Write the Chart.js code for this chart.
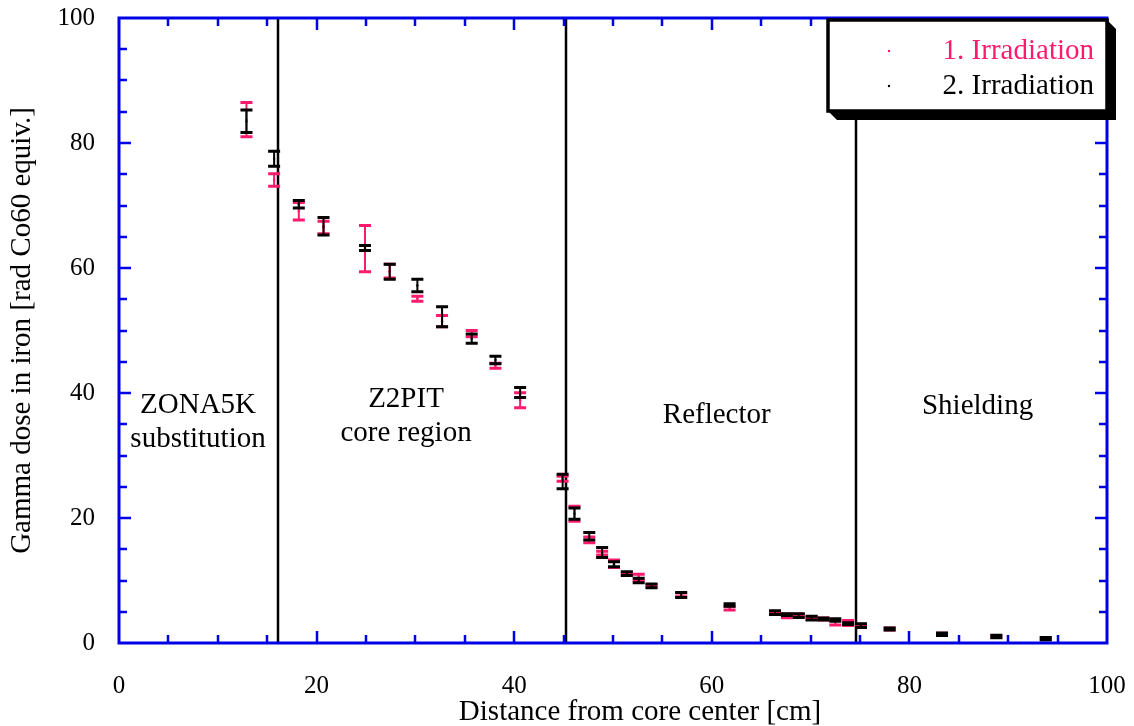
<!DOCTYPE html>
<html>
<head>
<meta charset="utf-8">
<script src="https://cdn.jsdelivr.net/npm/chart.js@4.4.1/dist/chart.umd.min.js"></script>
<style>
    body { margin: 0; background: #fff; }
    #kutu { width: 1134px; height: 726px; }
</style>
</head>
<body>
<div id="kutu"><canvas id="myChart"></canvas></div>
<script>
// Ölçüm noktaları (çekirdek merkezinden uzaklık, cm)
const mesafe = [12.9, 15.7, 18.2, 20.7, 24.9, 27.4, 30.2, 32.7, 35.7, 38.1, 40.6,
    44.9, 46.1, 47.6, 48.9, 50.1, 51.4, 52.6, 53.9, 56.9, 61.8,
    66.4, 67.6, 68.8, 70.1, 71.3, 72.5, 73.8, 75.1, 78.0, 83.3, 88.8, 93.8];

// 1. ışınlama: doz ve hata
const doz1 = [83.75, 74.1, 69.1, 66.5, 63.1, 59.5, 55.1, 51.5, 49.5, 44.35, 38.85,
    26.3, 20.7, 16.5, 14.4, 12.7, 11.1, 10.5, 9.15, 7.7, 5.6,
    4.85, 4.35, 4.4, 4.0, 3.85, 3.3, 3.2, 2.8, 2.25, 1.4, 1.05, 0.7];
const hata1 = [2.75, 1.0, 1.4, 1.0, 3.7, 1.1, 0.4, 0.9, 0.5, 0.4, 1.2,
    0.4, 1.2, 0.45, 0.3, 0.6, 0.2, 0.5, 0.2, 0.3, 0.3,
    0.2, 0.3, 0.2, 0.2, 0.15, 0.4, 0.4, 0.2, 0.15, 0.15, 0.15, 0.15];

// 2. ışınlama: doz ve hata
const doz2 = [83.5, 77.5, 70.2, 66.7, 63.2, 59.4, 57.2, 52.2, 48.7, 45.3, 40.1,
    25.85, 20.7, 17.1, 14.5, 12.6, 11.1, 10.0, 9.15, 7.7, 6.1,
    4.85, 4.55, 4.4, 4.0, 3.85, 3.7, 3.1, 2.8, 2.25, 1.4, 1.05, 0.7];
const hata2 = [1.8, 1.2, 0.6, 1.4, 0.4, 1.2, 1.0, 1.6, 0.75, 0.6, 0.8,
    1.15, 0.9, 0.6, 0.8, 0.4, 0.3, 0.35, 0.3, 0.4, 0.2,
    0.3, 0.15, 0.3, 0.3, 0.15, 0.2, 0.15, 0.3, 0.15, 0.2, 0.2, 0.2];

// Bölge sınırları ve adları
const sinirlar = [16.1, 45.2, 74.6];
const bolgeler = [['ZONA5K', 'substitution'], ['Z2PIT', 'core region'], ['Reflector'], ['Shielding']];

const etiketler = ['1. Irradiation', '2. Irradiation'];
const eksenTikleri = [0, 20, 40, 60, 80, 100];
const xBasligi = 'Distance from core center [cm]';

const PEMBE = '#ff1a6e';
const MAVI = '#0000e6';
const YAZI = '"Liberation Serif", "Times New Roman", serif';

function noktalar(y, e) {
    return mesafe.map(function (x, i) {
        return { x: x, y: y[i], yMin: y[i] - e[i], yMax: y[i] + e[i] };
    });
}

// Bölge yazılarının yeri (veri biriminde: x merkez, ilk satırın taban çizgisi)
const bolgeKonum = [[8.0, 36.8], [29.05, 37.8], [60.5, 35.2], [86.9, 36.6]];

const cizim = {
    id: 'cizim',
    beforeDatasetsDraw: function (chart) {
        const ctx = chart.ctx;
        const xs = chart.scales.x, ys = chart.scales.y;
        ctx.save();
        // dikey bölge çizgileri
        ctx.strokeStyle = '#000';
        ctx.lineWidth = 2.5;
        sinirlar.forEach(function (v) {
            const px = Math.round(xs.getPixelForValue(v));
            ctx.beginPath();
            ctx.moveTo(px, ys.getPixelForValue(0));
            ctx.lineTo(px, ys.getPixelForValue(100));
            ctx.stroke();
        });
        // bölge adları
        ctx.fillStyle = '#000';
        ctx.font = '29px ' + YAZI;
        ctx.textAlign = 'center';
        ctx.textBaseline = 'alphabetic';
        bolgeler.forEach(function (satirlar, i) {
            const px = xs.getPixelForValue(bolgeKonum[i][0]);
            const py = ys.getPixelForValue(bolgeKonum[i][1]);
            satirlar.forEach(function (s, j) {
                ctx.fillText(s, px, py + j * 34);
            });
        });
        ctx.restore();
    },
    afterDatasetsDraw: function (chart) {
        const ctx = chart.ctx;
        const xs = chart.scales.x, ys = chart.scales.y;
        const a = chart.chartArea;
        ctx.save();
        // hata çubukları
        chart.data.datasets.forEach(function (ds) {
            ctx.strokeStyle = ds.borderColor;
            ds.data.forEach(function (p) {
                const px = xs.getPixelForValue(p.x);
                const ust = ys.getPixelForValue(p.yMax);
                const alt = ys.getPixelForValue(p.yMin);
                ctx.lineWidth = 2;
                ctx.beginPath();
                ctx.moveTo(px, ust);
                ctx.lineTo(px, alt);
                ctx.stroke();
                ctx.lineWidth = 3;
                ctx.beginPath();
                ctx.moveTo(px - 6, ust);
                ctx.lineTo(px + 6, ust);
                ctx.moveTo(px - 6, alt);
                ctx.lineTo(px + 6, alt);
                ctx.stroke();
            });
        });

        // mavi çerçeve ve içe dönük tikler
        ctx.strokeStyle = MAVI;
        ctx.lineWidth = 3;
        ctx.strokeRect(a.left, a.top, a.right - a.left, a.bottom - a.top);
        ctx.lineWidth = 2.5;
        ctx.beginPath();
        for (let v = 5; v < 100; v += 5) {
            const boy = v % 20 === 0 ? 12 : 8;
            const px = Math.round(xs.getPixelForValue(v));
            ctx.moveTo(px, a.bottom);
            ctx.lineTo(px, a.bottom - boy);
            ctx.moveTo(px, a.top);
            ctx.lineTo(px, a.top + boy);
            const py = Math.round(ys.getPixelForValue(v));
            ctx.moveTo(a.left, py);
            ctx.lineTo(a.left + boy, py);
            ctx.moveTo(a.right, py);
            ctx.lineTo(a.right - boy, py);
        }
        ctx.stroke();
        ctx.restore();
    },
    afterDraw: function (chart) {
        const ctx = chart.ctx;
        const a = chart.chartArea;
        ctx.save();

        // x ekseni başlığı (biraz sağa kaymış)
        ctx.fillStyle = '#000';
        ctx.font = '29px ' + YAZI;
        ctx.textAlign = 'center';
        ctx.textBaseline = 'alphabetic';
        ctx.fillText(xBasligi, (a.left + a.right) / 2 + 27, chart.height - 6);

        // gölgeli lejant kutusu
        const R = a.right, T = a.top + 2, L = R - 279, B = T + 91, d = 9;
        ctx.fillStyle = '#000';
        ctx.beginPath();
        ctx.moveTo(L, B);
        ctx.lineTo(L + d, B + d);
        ctx.lineTo(R + d, B + d);
        ctx.lineTo(R + d, T + d);
        ctx.lineTo(R, T);
        ctx.closePath();
        ctx.fill();
        ctx.fillStyle = '#fff';
        ctx.fillRect(L, T, R - L, B - T);
        ctx.strokeStyle = '#000';
        ctx.lineWidth = 3.5;
        ctx.strokeRect(L, T, R - L, B - T);

        ctx.textAlign = 'right';
        ctx.textBaseline = 'middle';
        chart.data.datasets.forEach(function (ds, i) {
            const py = T + 31 + i * 35;
            ctx.fillStyle = ds.borderColor;
            ctx.fillText(ds.label, R - 13, py);
            ctx.beginPath();
            ctx.arc(L + 61, py, 1.2, 0, Math.PI * 2);
            ctx.fill();
        });
        ctx.restore();
    }
};

var ctx = document.getElementById('myChart');
var myChart = new Chart(ctx, {
    type: 'scatter',
    data: {
        datasets: [{
            label: etiketler[0],
            data: noktalar(doz1, hata1),
            borderColor: PEMBE,
            backgroundColor: PEMBE,
            pointRadius: 1.2,
            pointBorderWidth: 0
        }, {
            label: etiketler[1],
            data: noktalar(doz2, hata2),
            borderColor: '#000',
            backgroundColor: '#000',
            pointRadius: 1.2,
            pointBorderWidth: 0
        }]
    },
    options: {
        responsive: true,
        maintainAspectRatio: false,
        animation: false,
        layout: { padding: { top: 18, right: 27, left: 0, bottom: 0 } },
        plugins: {
            legend: { display: false },
            tooltip: { enabled: false }
        },
        scales: {
            x: {
                type: 'linear',
                min: 0,
                max: 100,
                afterFit: function (s) {
                    s.height = 83;
                    s.paddingLeft = 0;
                    s.paddingRight = 0;
                },
                afterBuildTicks: function (s) {
                    s.ticks = eksenTikleri.map(function (v) { return { value: v }; });
                },
                grid: { display: false, drawTicks: false },
                border: { display: false },
                ticks: { color: '#000', padding: 28, font: { family: YAZI, size: 25 } },
                title: { display: false }
            },
            y: {
                type: 'linear',
                min: 0,
                max: 100,
                afterFit: function (s) {
                    s.width = 119;
                    s.paddingTop = 0;
                    s.paddingBottom = 0;
                },
                afterBuildTicks: function (s) {
                    s.ticks = eksenTikleri.map(function (v) { return { value: v }; });
                },
                grid: { display: false, drawTicks: false },
                border: { display: false },
                ticks: { color: '#000', padding: 24, font: { family: YAZI, size: 25 } },
                title: {
                    display: true,
                    text: 'Gamma dose in iron [rad Co60 equiv.]',
                    color: '#000',
                    font: { family: YAZI, size: 29, lineHeight: 1 },
                    padding: { top: 8, bottom: 0 }
                }
            }
        }
    },
    plugins: [cizim]
});
</script>
</body>
</html>
